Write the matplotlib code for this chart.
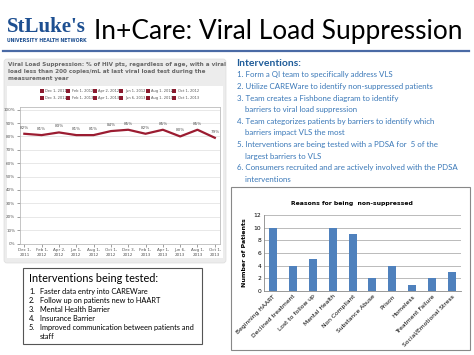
import numpy as np
import matplotlib
matplotlib.use("Agg")
import matplotlib.pyplot as plt
from matplotlib.patches import FancyBboxPatch, Rectangle

# ---- data ----
dates = ["Dec 1,\n2011", "Feb 1,\n2012", "Apr 2,\n2012", "Jun 1,\n2012", "Aug 1,\n2012", "Oct 1,\n2012",
         "Dec 3,\n2012", "Feb 1,\n2013", "Apr 1,\n2013", "Jun 6,\n2013", "Aug 1,\n2013", "Oct 1,\n2013"]
legend_labels = ["Dec 1, 2011", "Feb 1, 2012", "Apr 2, 2012", "Jun 1, 2012", "Aug 1, 2012", "Oct 1, 2012",
                 "Dec 3, 2012", "Feb 1, 2013", "Apr 1, 2013", "Jun 6, 2013", "Aug 1, 2013", "Oct 1, 2013"]
vls_pct = [82, 81, 83, 81, 81, 84, 85, 82, 85, 80, 85, 79]

reasons = ["Beginning HAART", "Declined treatment", "Lost to follow up", "Mental Health", "Non Compliant",
           "Substance Abuse", "Prison", "Homeless", "Treatment Failure", "Social/Emotional Stress"]
patients = [10, 4, 5, 10, 9, 2, 4, 1, 2, 3]

interventions = [
    "1. Form a QI team to specifically address VLS",
    "2. Utilize CAREWare to identify non-suppressed patients",
    "3. Team creates a Fishbone diagram to identify",
    "    barriers to viral load suppression",
    "4. Team categorizes patients by barriers to identify which",
    "    barriers impact VLS the most",
    "5. Interventions are being tested with a PDSA for  5 of the",
    "    largest barriers to VLS",
    "6. Consumers recruited and are actively involved with the PDSA",
    "    interventions",
]
tested = ["Faster data entry into CAREWare", "Follow up on patients new to HAART", "Mental Health Barrier",
          "Insurance Barrier", "Improved communication between patients and", "staff"]

W, H = 474, 355
fig = plt.figure(figsize=(W / 100, H / 100), dpi=100)
bg = fig.add_axes([0, 0, 1, 1])
bg.set_xlim(0, W)
bg.set_ylim(H, 0)
bg.axis("off")


def px_axes(x0, y0, x1, y1):
    return fig.add_axes([x0 / W, 1 - y1 / H, (x1 - x0) / W, (y1 - y0) / H])


# header
bg.text(7, 27, "StLuke's", fontsize=15, fontweight="bold", family="Liberation Serif",
        color="#1d4f91", va="center", ha="left")
bg.text(7, 41, "UNIVERSITY HEALTH NETWORK", fontsize=3.3, fontweight="bold", color="#1d4f91",
        va="center", ha="left")
bg.text(94, 32, "In+Care: Viral Load Suppression", fontsize=18.9, family="Lato", color="black",
        va="center", ha="left")
bg.plot([3, 469], [51, 51], color="#4a6aa5", lw=1.6)

# left panel
bg.add_patch(FancyBboxPatch((4, 59), 222, 204, boxstyle="round,pad=0,rounding_size=3",
                            facecolor="#ececec", edgecolor="#dddddd", lw=0.5))
bg.add_patch(Rectangle((7, 86), 216, 172, facecolor="white", edgecolor="none"))
bg.text(8, 62, "Viral Load Suppression: % of HIV pts, regardless of age, with a viral\n"
        "load less than 200 copies/mL at last viral load test during the\nmeasurement year",
        fontsize=4.1, fontweight="bold", color="#666666", va="top", ha="left", linespacing=1.45)
for i, lab in enumerate(legend_labels):
    lx = 40 + (i % 6) * 26.5
    ly = 91 + (i // 6) * 7
    bg.add_patch(Rectangle((lx, ly - 2), 4, 4, facecolor="#8b1a2e", edgecolor="none"))
    bg.text(lx + 5.5, ly, lab, fontsize=2.6, color="#555555", va="center", ha="left")

ax = px_axes(20, 107, 220, 243.5)
x = np.arange(len(vls_pct))
ax.plot(x, np.array(vls_pct) / 100, color="#9b1c31", lw=1.6)
for xi, v in zip(x, vls_pct):
    ax.text(xi, v / 100 + 0.045, f"{v}%", fontsize=3, color="#555555", ha="center", va="center")
ax.set_ylim(0, 1.02)
ax.set_xlim(-0.25, len(x) - 0.7)
ax.set_yticks(np.arange(0, 1.01, 0.1))
ax.set_yticklabels([f"{int(round(t * 100))}%" for t in np.arange(0, 1.01, 0.1)])
ax.set_xticks(x)
ax.set_xticklabels(dates)
ax.tick_params(labelsize=3, colors="#555555", length=2, width=0.4, pad=1.5)
ax.grid(axis="y", color="#e4e4e4", lw=0.6)
ax.set_axisbelow(True)
for s in ax.spines.values():
    s.set_color("#bbbbbb")
    s.set_linewidth(0.6)

# interventions tested box
bg.add_patch(Rectangle((23, 268), 179, 76, facecolor="white", edgecolor="#555555", lw=0.8))
bg.text(29, 278, "Interventions being tested:", fontsize=7.8, family="Lato", color="black",
        va="center", ha="left")
for i, t in enumerate(tested):
    yy = 291.5 + i * 9
    if i < 5:
        bg.text(29, yy, f"{i + 1}.", fontsize=5.3, family="Lato", va="center", ha="left")
    bg.text(40, yy, t, fontsize=5.3, family="Lato", va="center", ha="left")

# right text
bg.text(236, 64, "Interventions:", fontsize=7.5, family="Lato", fontweight="bold", color="#1f5c99",
        va="center", ha="left")
for i, t in enumerate(interventions):
    bg.text(237, 75 + i * 11.6, t, fontsize=5.7, family="Lato", color="#3a78b8", va="center", ha="left")

# bar chart
bg.add_patch(Rectangle((231, 187), 239, 163, facecolor="white", edgecolor="#888888", lw=0.8))
bg.text(352, 203, "Reasons for being  non-suppressed", fontsize=4.4, fontweight="bold",
        va="center", ha="center")
bx = px_axes(264, 215, 461, 291)
bpos = np.arange(len(patients))
bx.bar(bpos, patients, width=0.4, color="#4f81bd", zorder=3)
bx.set_ylim(0, 12)
bx.set_xlim(-0.45, len(patients) - 0.55)
bx.set_yticks(range(0, 13, 2))
bx.set_xticks(bpos)
bx.set_xticklabels(reasons, rotation=45, ha="right", rotation_mode="anchor")
bx.tick_params(labelsize=4.3, length=0, pad=2)
bx.grid(axis="y", color="#a0a0a0", lw=0.5, zorder=0)
for k in ["top", "right"]:
    bx.spines[k].set_visible(False)
for k in ["left", "bottom"]:
    bx.spines[k].set_color("#888888")
    bx.spines[k].set_linewidth(0.6)
bx.set_ylabel("Number of Patients", fontsize=4.5, fontweight="bold", labelpad=5)

fig.savefig("out.png", dpi=100)
